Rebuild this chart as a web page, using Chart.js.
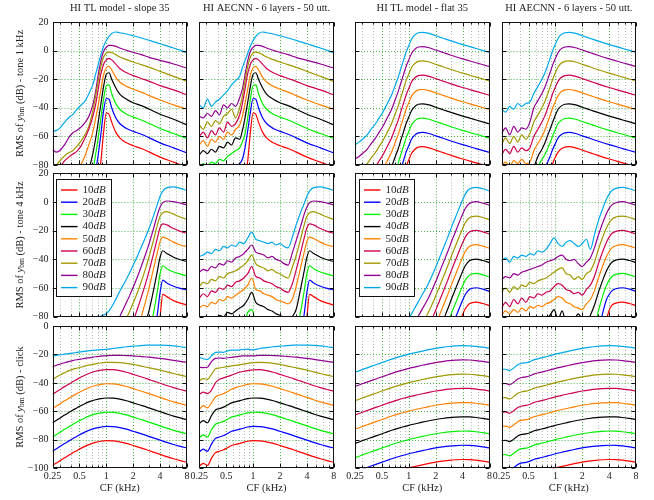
<!DOCTYPE html>
<html>
<head>
<meta charset="utf-8">
<title>RMS of basilar membrane output</title>
<script src="https://cdn.jsdelivr.net/npm/chart.js@4.4.1/dist/chart.umd.min.js"></script>
<style>
  html, body { margin: 0; padding: 0; background: #fff; }
  #board { position: relative; width: 654px; height: 500px; }
  #board canvas { position: absolute; left: 0; top: 0; }
</style>
</head>
<body>
<div id="board"></div>
<script>
// === CF grids (kHz), one per row of panels ===
const cfTone1k = [0.25,0.277,0.308,0.342,0.379,0.42,0.467,0.518,0.574,0.637,0.707,0.758,0.812,0.871,0.933,1.0,1.072,1.149,1.275,1.414,1.682,2.0,2.462,3.031,4.0,5.657,8.0];
const cfTone4k = [0.25,0.277,0.308,0.342,0.379,0.42,0.467,0.518,0.574,0.637,0.707,0.785,0.871,0.966,1.072,1.189,1.32,1.464,1.625,1.803,2.0,2.219,2.462,2.732,3.031,3.364,3.732,4.0,4.287,4.757,5.657,6.727,8.0];
const cfClick = [0.25,0.277,0.308,0.342,0.379,0.42,0.467,0.518,0.574,0.66,0.758,0.871,1.0,1.189,1.414,1.682,2.0,2.378,2.828,3.364,4.0,4.757,5.657,6.727,8.0];

const levels = ['10','20','30','40','50','60','70','80','90'];
const lineColors = ['#ff0000','#0000ff','#00ee00','#000000','#ff8000','#cc0050','#a09800','#920092','#00a8ea'];
const xTicks = [0.25,0.5,1,2,4,8];
const xMinor = [0.3,0.4,0.6,0.7,0.8,0.9,3,5,6,7];

// Series per panel, 10 dB ... 90 dB. A series shorter than its CF grid
// covers the last CF points only (earlier points lie below the plot).

// --- tone 1 kHz ---
const slope1k = [
  [-125,-124,-123,-122,-121,-120,-118,-116,-114,-111,-106,-101,-91,-77,-57,-43.5,-44.5,-50,-57,-61,-64.5,-66.5,-68.5,-71,-74.5,-78,-81.5],
  [-120,-118,-116,-114,-112,-110,-108,-106,-104,-101,-96,-85,-73,-58,-42,-33.5,-34,-40,-47,-51,-54.5,-56.5,-58.5,-61,-64.5,-68,-71.6],
  [-112,-110,-108,-106,-104,-102,-100,-98,-96,-93,-84,-73,-61,-47,-34,-24.5,-24,-30,-37,-41,-44.5,-46.5,-48.5,-51,-54.5,-58,-61.5],
  [-105,-103,-101,-99,-97,-95,-93,-91,-89,-83,-72,-62,-50,-37,-25,-16.5,-15.5,-20,-26,-30.5,-34,-36.5,-38.5,-41,-44.5,-48,-52],
  [-100,-98,-96,-94,-92,-90,-86,-80,-74,-66,-57,-48,-38,-27,-17,-12,-11,-13.5,-18.5,-22,-25,-27,-29,-31.5,-34.5,-38,-41],
  [-90,-86,-81,-77,-74.5,-72.5,-70.5,-67,-61.5,-55,-46,-38,-27,-16,-9.5,-6.5,-5.6,-6.5,-9.5,-12.5,-15.5,-17.5,-19.5,-21.5,-24.5,-27.5,-31],
  [-84,-80,-76.5,-73.5,-71.5,-70,-67,-63.5,-59,-53,-42,-32,-21,-11,-4.5,-1.7,-1,-1.4,-2.8,-4.5,-6.3,-8,-9.8,-11.7,-14.5,-18,-21.5],
  [-69.3,-71,-69.3,-65.8,-61,-57.6,-55.8,-53.7,-50.6,-46,-38,-29,-17,-7,-0.5,2.3,3.7,3.7,3,1.8,0.2,-1.2,-2.8,-4.7,-6.8,-9.4,-12.2],
  [-56.5,-55.8,-53.7,-50,-47,-44.8,-41.3,-38.3,-35.5,-30.3,-23.8,-16.8,-9.8,-2.8,3,7,10,12,13,12.5,11.6,10.4,8.8,7.2,4.8,1.8,-1.4]
];
const aecnn1k = [
  [-125,-124,-123,-122,-121,-120,-118,-116,-114,-111,-106,-101,-91,-77,-57,-43.5,-44.5,-50,-57,-61,-64.5,-66.5,-68.5,-71,-74.5,-78,-81.5],
  [-92,-90,-91,-88,-89,-86,-85,-84,-82,-80,-79,-76,-68,-56,-43,-33.5,-34,-40,-47,-51,-54.5,-56.5,-58.5,-61,-64.5,-68,-71.6],
  [-82,-79,-81,-78,-79,-76,-77,-74,-72,-70,-68,-64,-58,-47,-34,-24.5,-24,-30,-37,-41,-44.5,-46.5,-48.5,-51,-54.5,-58,-61.5],
  [-73,-70,-72,-69,-71,-67,-68,-64,-66,-61,-62,-56,-47,-36,-25,-16.5,-15.5,-20,-26,-30.5,-34,-36.5,-38.5,-41,-44.5,-48,-52],
  [-66,-63,-67,-62,-64,-60,-62,-57,-59,-55,-52,-46,-37,-27,-17,-12,-11,-13.5,-18.5,-22,-25,-27,-29,-31.5,-34.5,-38,-41],
  [-60,-57,-61,-56,-59,-54,-57,-50,-53,-51,-45,-37,-27,-16,-9.5,-6.5,-5.6,-6.5,-9.5,-12.5,-15.5,-17.5,-19.5,-21.5,-24.5,-27.5,-31],
  [-52,-55,-50,-53,-49,-51,-46,-44,-41,-47,-40,-32,-21,-11,-4.5,-1.7,-1,-1.4,-2.8,-4.5,-6.3,-8,-9.8,-11.7,-14.5,-18,-21.5],
  [-46,-47,-44,-46,-42,-45,-38,-40,-37,-39,-33,-27,-17,-7,-0.5,2.3,3.7,3.7,3,1.8,0.2,-1.2,-2.8,-4.7,-6.8,-9.4,-12.2],
  [-38,-40,-34,-39,-36,-34,-31,-28,-24,-21,-18,-12,-7,-2,3,7,10,12,13,12.5,11.6,10.4,8.8,7.2,4.8,1.8,-1.4]
];
const flat1k = [
  [-146,-144,-141.6,-139,-135,-131.5,-127,-122.5,-117,-111.5,-104,-99,-93,-87,-81,-76.5,-72,-69.5,-67.5,-67.2,-68,-69.6,-71.5,-73.4,-75.8,-78.5,-81.2],
  [-136,-134,-131.6,-129,-125,-121.5,-117,-112.5,-107,-101.5,-94,-89,-83,-77,-71,-66.5,-62,-59.5,-57.5,-57.2,-58,-59.6,-61.5,-63.4,-65.8,-68.5,-71.2],
  [-126,-124,-121.6,-119,-115,-111.5,-107,-102.5,-97,-91.5,-84,-79,-73,-67,-61,-56.5,-52,-49.5,-47.5,-47.2,-48,-49.6,-51.5,-53.4,-55.8,-58.5,-61.2],
  [-116,-114,-111.6,-109,-105,-101.5,-97,-92.5,-87,-81.5,-74,-69,-63,-57,-51,-46.5,-42,-39.5,-37.5,-37.2,-38,-39.6,-41.5,-43.4,-45.8,-48.5,-51.2],
  [-106,-104,-101.6,-99,-95,-91.5,-87,-82.5,-77,-71.5,-64,-59,-53,-47,-41,-36.5,-32,-29.5,-27.5,-27.2,-28,-29.6,-31.5,-33.4,-35.8,-38.5,-41.2],
  [-96,-94,-91.6,-89,-85,-81.5,-77,-72.5,-67,-61.5,-54,-49,-43,-37,-31,-26.5,-22,-19.5,-17.5,-17.2,-18,-19.6,-21.5,-23.4,-25.8,-28.5,-31.2],
  [-86,-84,-81.6,-79,-75,-71.5,-67,-62.5,-57,-51.5,-44,-39,-33,-27,-21,-16.5,-12,-9.5,-7.5,-7.2,-8,-9.6,-11.5,-13.4,-15.8,-18.5,-21.2],
  [-76,-74,-71.6,-69,-65,-61.5,-57,-52.5,-47,-41.5,-34,-29,-23,-17,-11,-6.5,-2,0.5,2.5,2.8,2,0.4,-1.5,-3.4,-5.8,-8.5,-11.2],
  [-66,-64,-61.6,-59,-55,-51.5,-47,-42.5,-37,-31.5,-24,-19,-13,-7,-1,3.5,8,10.5,12.5,12.8,12,10.4,8.5,6.6,4.2,1.5,-1.2]
];
const aecnnFlat1k = [
  [-120,-120,-120,-120,-120,-120,-120,-120,-120,-120,-118,-110,-100,-88,-79,-74.5,-71,-69,-67.5,-67.2,-68,-69.6,-71.5,-73.4,-75.8,-78.5,-81.2],
  [-110,-110,-110,-110,-110,-110,-110,-110,-110,-105,-92,-83,-78.5,-74,-69,-65,-61,-59,-57.5,-57.2,-58,-59.6,-61.5,-63.4,-65.8,-68.5,-71.2],
  [-100,-100,-100,-100,-100,-100,-100,-100,-97,-82,-76,-73,-69,-64.5,-59.5,-55,-51,-49,-47.5,-47.2,-48,-49.6,-51.5,-53.4,-55.8,-58.5,-61.2],
  [-95,-95,-95,-95,-95,-95,-95,-92,-82,-74,-69,-65,-60,-55,-50,-45,-41,-39,-37.5,-37.2,-38,-39.6,-41.5,-43.4,-45.8,-48.5,-51.2],
  [-80,-78,-81,-77,-79,-76,-79,-78,-70,-65,-60,-56,-51,-45.5,-40,-35.5,-31.5,-29,-27.5,-27.2,-28,-29.6,-31.5,-33.4,-35.8,-38.5,-41.2],
  [-73,-69,-72,-67,-71,-68,-70,-68,-60,-55,-50,-46,-41,-35.5,-30,-25.5,-21.5,-19,-17.5,-17.2,-18,-19.6,-21.5,-23.4,-25.8,-28.5,-31.2],
  [-66,-61,-65,-60,-64,-59,-62,-58,-50,-45,-40,-36,-31,-25.5,-20,-15.5,-11.5,-9,-7.5,-7.2,-8,-9.6,-11.5,-13.4,-15.8,-18.5,-21.2],
  [-58,-54,-59,-53,-57,-54,-55,-50,-40,-35,-30,-26,-21,-15.5,-10,-5.5,-1.5,1,2.5,2.8,2,0.4,-1.5,-3.4,-5.8,-8.5,-11.2],
  [-41,-43,-39,-41,-37,-39,-37,-36,-30,-25,-20,-16,-11,-5.5,0,4.5,8.5,11,12.5,12.8,12,10.4,8.5,6.6,4.2,1.5,-1.2]
];

// --- tone 4 kHz ---
const slope4k = [
  [-110,-95,-80,-64.5,-66,-68.8,-70.5,-71.9],
  [-108,-95,-78,-63,-54.5,-56.5,-58.8,-60.3,-61.4],
  [-105,-90,-78,-62,-50,-44.5,-46.5,-48.8,-50.3,-51.6],
  [-97,-85,-75,-62,-48,-38.5,-34,-36,-38.5,-40.3,-41.6],
  [-98,-88,-80,-70,-59,-47,-35,-27.5,-24.5,-25.5,-28,-30,-31.2],
  [-91,-83,-75,-66.5,-57.5,-47.5,-36.5,-25,-18,-15.2,-16,-18.5,-20.5,-21.9],
  [-90,-83,-77,-70.5,-63.5,-55.5,-47,-37.5,-27,-16,-10,-7.5,-6.7,-8.5,-10.5,-12.1],
  [-95,-89,-84,-78,-72,-66,-59.5,-52.5,-45,-37,-28.5,-19,-9,-3.5,-0.5,0.7,0.3,-0.8,-2.1],
  [-88,-83,-79.5,-78.5,-76,-71.5,-66,-60.5,-55.5,-50,-44,-38,-31.5,-25,-18,-10,-1.5,4,7.5,10,10.6,9.5,8]
];
const aecnn4k = [
  [-110,-95,-80,-64.5,-66,-68.8,-70.5,-71.9],
  [-108,-95,-78,-63,-54.5,-56.5,-58.8,-60.3,-61.4],
  [-95,-94,-93,-92,-91,-90,-89,-88,-87,-86,-85,-86,-77,-75,-84,-86,-88,-89,-90,-90,-91,-91,-92,-92,-90,-78,-62,-50,-44.5,-46.5,-48.8,-50.3,-51.6],
  [-84,-81,-83,-80,-82,-79,-80,-77,-78,-76,-74,-72,-68,-63,-70,-72,-73,-75,-76,-78,-79,-81,-82,-80,-75,-62,-48,-38.5,-34,-36,-38.5,-40.3,-41.6],
  [-74,-72,-73,-70,-71,-68,-69,-66,-67,-65,-63,-61,-58,-53,-61,-62,-64,-65,-66,-68,-69,-70,-71,-68,-59,-47,-35,-27.5,-24.5,-25.5,-28,-30,-31.2],
  [-67,-64,-66,-62,-63,-60,-61,-58,-59,-56,-55,-53,-50,-45,-52,-53,-55,-56,-57,-59,-60,-62,-63,-57.5,-47.5,-36.5,-25,-18,-15.2,-16,-18.5,-20.5,-21.9],
  [-59,-56,-57,-54,-55,-52,-53,-50,-49,-48,-46,-44,-41,-37,-43,-45,-46,-48,-47,-49,-50,-52,-53,-46,-37.5,-27,-16,-10,-7.5,-6.7,-8.5,-10.5,-12.1],
  [-49,-47,-48,-45,-46,-43,-44,-41,-42,-39,-38,-36,-33,-30,-35,-36,-37,-39,-38,-40,-41,-43,-44,-36,-27,-18,-8.5,-3.5,-0.5,0.7,0.3,-0.8,-2.1],
  [-38,-37,-35,-36,-33,-34,-31,-32,-30,-31,-28,-29,-25,-21,-26,-27,-28,-29,-28,-30,-29,-31,-32,-25,-16,-8,-1,4,7.5,10,10.6,9.5,8]
];
const flat4k = [
  [-104.5,-97,-90,-83,-78.5,-74.5,-71,-69.8,-70.8,-72.3],
  [-101.5,-94.5,-87,-80,-73,-68.5,-64.5,-61,-59.8,-60.8,-62.3],
  [-98.5,-91.5,-84.5,-77,-70,-63,-58.5,-54.5,-51,-49.8,-50.8,-52.3],
  [-95.5,-88.5,-81.5,-74.5,-67,-60,-53,-48.5,-44.5,-41,-39.8,-40.8,-42.3],
  [-92,-85.5,-78.5,-71.5,-64.5,-57,-50,-43,-38.5,-34.5,-31,-29.8,-30.8,-32.3],
  [-88,-82,-75.5,-68.5,-61.5,-54.5,-47,-40,-33,-28.5,-24.5,-21,-19.8,-20.8,-22.3],
  [-88,-83,-78,-72,-65.5,-58.5,-51.5,-44.5,-37,-30,-23,-18.5,-14.5,-11,-9.8,-10.8,-12.3],
  [-88,-83,-78,-73,-68,-62,-55.5,-48.5,-41.5,-34.5,-27,-20,-13,-8.5,-4.5,-1,0.2,-0.8,-2.3],
  [-88,-83,-78,-73,-68,-63,-58,-52,-45.5,-38.5,-31.5,-24.5,-17,-10,-3,1.5,5.5,9,10.2,9.2,7.7]
];
const aecnnFlat4k = [
  [-105,-95,-82,-75.5,-72,-70.5,-69.8,-70.8,-72.3],
  [-102,-90,-78,-68,-64.5,-62,-60.5,-59.8,-60.8,-62.3],
  [-100,-88,-76,-66,-58,-54.5,-52,-50.5,-49.8,-50.8,-52.3],
  [-88,-86,-87,-85,-86,-84,-85,-83,-84,-82,-83,-81,-79,-75,-82,-76,-84,-83,-82,-78,-82,-85,-79,-72,-63,-55,-48,-44.5,-42,-40.5,-39.8,-40.8,-42.3],
  [-79,-76,-78,-75,-77,-74,-76,-73,-74,-72,-73,-71,-70,-68,-66,-67,-70,-71,-73,-74,-75,-71,-68,-62,-53,-45,-38,-34.5,-32,-30.5,-29.8,-30.8,-32.3],
  [-74,-70,-73,-68,-71,-67,-70,-66,-67,-64,-65,-63,-62,-59,-57,-58,-61,-62,-64,-63,-65,-61,-58,-52,-43,-35,-28,-24.5,-22,-20.5,-19.8,-20.8,-22.3],
  [-63,-60,-63,-59,-61,-58,-59,-56,-57,-55,-54,-53,-51,-49,-47,-46,-50,-51,-54,-52,-54,-50,-48,-42,-33,-25,-18,-14.5,-12,-10.5,-9.8,-10.8,-12.3],
  [-54,-52,-53,-50,-51,-49,-48,-47,-46,-45,-44,-42,-41,-40,-38,-37,-40,-41,-40,-43,-45,-42,-39,-32,-23,-15,-8,-4.5,-2,-0.5,0.2,-0.8,-2.3],
  [-41,-39,-42,-38,-39,-37,-38,-36,-37,-34,-35,-33,-29,-25,-29,-31,-28,-27,-29,-31,-29,-26,-33,-23,-13,-5,2,5.5,8,9.5,10.2,9.2,7.7]
];

// --- click ---
const slopeClick = [
  [-98,-96.2,-94.4,-92.6,-90.9,-89.2,-87.6,-86,-84.6,-83,-81.8,-81,-80.6,-80.7,-81.4,-82.5,-84,-85.5,-87,-88.6,-90.2,-91.8,-93.3,-94.6,-95.8],
  [-88,-86.2,-84.4,-82.6,-80.9,-79.2,-77.6,-76,-74.6,-73,-71.8,-71,-70.6,-70.7,-71.4,-72.5,-74,-75.5,-77,-78.6,-80.2,-81.8,-83.3,-84.6,-85.8],
  [-78,-76.2,-74.4,-72.6,-70.9,-69.2,-67.6,-66,-64.6,-63,-61.8,-61,-60.6,-60.7,-61.4,-62.5,-64,-65.5,-67,-68.6,-70.2,-71.8,-73.3,-74.6,-75.8],
  [-68,-66.2,-64.4,-62.6,-60.9,-59.2,-57.6,-56,-54.6,-53,-51.8,-51,-50.6,-50.7,-51.4,-52.5,-54,-55.5,-57,-58.6,-60.2,-61.8,-63.3,-64.6,-65.8],
  [-58,-56.2,-54.4,-52.6,-50.9,-49.2,-47.6,-46,-44.6,-43,-41.8,-41,-40.6,-40.7,-41.4,-42.5,-44,-45.5,-47,-48.6,-50.2,-51.8,-53.3,-54.6,-55.8],
  [-48,-46.2,-44.4,-42.6,-40.9,-39.2,-37.6,-36,-34.6,-33,-31.8,-31,-30.6,-30.7,-31.4,-32.5,-34,-35.5,-37,-38.6,-40.2,-41.8,-43.3,-44.6,-45.8],
  [-37.5,-35.8,-34.2,-32.8,-31.5,-30.5,-29.7,-29,-28.2,-27.3,-26.6,-26,-25.6,-25.5,-25.7,-26.2,-27,-28,-29,-30,-31,-32.2,-33.4,-34.5,-35.6],
  [-28.6,-27.6,-26.7,-25.8,-25,-24.3,-23.7,-23.3,-22.8,-22.2,-21.6,-21.2,-20.8,-20.6,-20.6,-20.8,-21,-21.4,-21.8,-22.2,-22.7,-23.4,-24.1,-24.8,-25.5],
  [-21.1,-20.6,-20.2,-19.8,-19.4,-19,-18.6,-18.2,-17.8,-17.3,-16.9,-16.6,-16.4,-15.8,-15.2,-14.6,-14.2,-13.8,-13.5,-13.4,-13.4,-13.6,-14,-14.6,-15.3]
];
const aecnnClick = [
  [-98.5,-96.5,-98,-93,-89,-88,-87,-85.5,-84,-83,-82,-81,-80.6,-80.7,-81.4,-82.5,-84,-85.5,-87,-88.6,-90.2,-91.8,-93.3,-94.6,-95.8],
  [-88.5,-86.5,-88,-83,-79,-78,-77,-75.5,-74,-73,-72,-71,-70.6,-70.7,-71.4,-72.5,-74,-75.5,-77,-78.6,-80.2,-81.8,-83.3,-84.6,-85.8],
  [-78.5,-76.5,-78,-73,-69,-68,-67,-65.5,-64,-63,-62,-61,-60.6,-60.7,-61.4,-62.5,-64,-65.5,-67,-68.6,-70.2,-71.8,-73.3,-74.6,-75.8],
  [-68.5,-66.5,-68,-63,-59,-58,-57,-55.5,-54,-53,-52,-51,-50.6,-50.7,-51.4,-52.5,-54,-55.5,-57,-58.6,-60.2,-61.8,-63.3,-64.6,-65.8],
  [-58.5,-56,-57.5,-54,-50,-48.5,-47.5,-46,-44.5,-43,-42,-41,-40.6,-40.7,-41.4,-42.5,-44,-45.5,-47,-48.6,-50.2,-51.8,-53.3,-54.6,-55.8],
  [-48,-46.5,-47.5,-45,-40,-37.5,-36.5,-35.5,-34.5,-33,-32,-31.3,-30.8,-30.7,-31.4,-32.5,-34,-35.5,-37,-38.6,-40.2,-41.8,-43.3,-44.6,-45.8],
  [-38.5,-37,-37.5,-34,-30,-29.5,-29,-28.5,-28,-27.5,-27,-26.3,-25.8,-25.5,-25.7,-26.2,-27,-28,-29,-30,-31,-32.2,-33.4,-34.5,-35.6],
  [-29,-29.3,-29,-25,-22.8,-22.5,-22.7,-22.3,-22,-21.5,-21,-21,-21,-20.6,-20.6,-20.8,-21,-21.4,-21.8,-22.2,-22.7,-23.4,-24.1,-24.8,-25.5],
  [-22,-23,-23.5,-21,-18.5,-18.3,-18.5,-17.5,-17,-17,-16.5,-16.3,-16.8,-15.8,-15.2,-14.6,-14.2,-13.8,-13.5,-13.4,-13.4,-13.6,-14,-14.6,-15.3]
];
const flatClick = [
  [-101.9,-100.8,-99.8,-98.7,-97.6,-96.6,-95.7,-95,-94.4,-94,-93.8,-93.9,-94.3,-94.9,-95.7],
  [-102.5,-101.5,-100.4,-99.4,-98.4,-97.4,-96.4,-95.4,-94.4,-93.1,-91.9,-90.8,-89.8,-88.7,-87.6,-86.6,-85.7,-85,-84.4,-84,-83.8,-83.9,-84.3,-84.9,-85.7],
  [-92.5,-91.5,-90.4,-89.4,-88.4,-87.4,-86.4,-85.4,-84.4,-83.1,-81.9,-80.8,-79.8,-78.7,-77.6,-76.6,-75.7,-75,-74.4,-74,-73.8,-73.9,-74.3,-74.9,-75.7],
  [-82.5,-81.5,-80.4,-79.4,-78.4,-77.4,-76.4,-75.4,-74.4,-73.1,-71.9,-70.8,-69.8,-68.7,-67.6,-66.6,-65.7,-65,-64.4,-64,-63.8,-63.9,-64.3,-64.9,-65.7],
  [-72.5,-71.5,-70.4,-69.4,-68.4,-67.4,-66.4,-65.4,-64.4,-63.1,-61.9,-60.8,-59.8,-58.7,-57.6,-56.6,-55.7,-55,-54.4,-54,-53.8,-53.9,-54.3,-54.9,-55.7],
  [-62.5,-61.5,-60.4,-59.4,-58.4,-57.4,-56.4,-55.4,-54.4,-53.1,-51.9,-50.8,-49.8,-48.7,-47.6,-46.6,-45.7,-45,-44.4,-44,-43.8,-43.9,-44.3,-44.9,-45.7],
  [-52.5,-51.5,-50.4,-49.4,-48.4,-47.4,-46.4,-45.4,-44.4,-43.1,-41.9,-40.8,-39.8,-38.7,-37.6,-36.6,-35.7,-35,-34.4,-34,-33.8,-33.9,-34.3,-34.9,-35.7],
  [-42.5,-41.5,-40.4,-39.4,-38.4,-37.4,-36.4,-35.4,-34.4,-33.1,-31.9,-30.8,-29.8,-28.7,-27.6,-26.6,-25.7,-25,-24.4,-24,-23.8,-23.9,-24.3,-24.9,-25.7],
  [-32.5,-31.5,-30.4,-29.4,-28.4,-27.4,-26.4,-25.4,-24.4,-23.1,-21.9,-20.8,-19.8,-18.7,-17.6,-16.6,-15.7,-15,-14.4,-14,-13.8,-13.9,-14.3,-14.9,-15.7]
];
const aecnnFlatClick = [
  [-102.8,-101.9,-100.8,-99.8,-98.7,-97.6,-96.6,-95.7,-95,-94.4,-94,-93.8,-93.9,-94.3,-94.9,-95.7],
  [-100.5,-100.4,-101.3,-99.5,-97.3,-96.2,-95.8,-95,-93.8,-92.8,-91.9,-90.8,-89.8,-88.7,-87.6,-86.6,-85.7,-85,-84.4,-84,-83.8,-83.9,-84.3,-84.9,-85.7],
  [-90.5,-90.4,-91.3,-89.5,-87.3,-86.2,-85.8,-85,-83.8,-82.8,-81.9,-80.8,-79.8,-78.7,-77.6,-76.6,-75.7,-75,-74.4,-74,-73.8,-73.9,-74.3,-74.9,-75.7],
  [-80.5,-80.4,-81.3,-79.5,-77.3,-76.2,-75.8,-75,-73.8,-72.8,-71.9,-70.8,-69.8,-68.7,-67.6,-66.6,-65.7,-65,-64.4,-64,-63.8,-63.9,-64.3,-64.9,-65.7],
  [-70.5,-70.4,-71.3,-69.5,-67.3,-66.2,-65.8,-65,-63.8,-62.8,-61.9,-60.8,-59.8,-58.7,-57.6,-56.6,-55.7,-55,-54.4,-54,-53.8,-53.9,-54.3,-54.9,-55.7],
  [-60.5,-60.4,-61.3,-59.5,-57.3,-56.2,-55.8,-55,-53.8,-52.8,-51.9,-50.8,-49.8,-48.7,-47.6,-46.6,-45.7,-45,-44.4,-44,-43.8,-43.9,-44.3,-44.9,-45.7],
  [-50.5,-50.4,-51.3,-49.5,-47.3,-46.2,-45.8,-45,-43.8,-42.8,-41.9,-40.8,-39.8,-38.7,-37.6,-36.6,-35.7,-35,-34.4,-34,-33.8,-33.9,-34.3,-34.9,-35.7],
  [-40.5,-40.4,-41.3,-39.5,-37.3,-36.2,-35.8,-35,-33.8,-32.8,-31.9,-30.8,-29.8,-28.7,-27.6,-26.6,-25.7,-25,-24.4,-24,-23.8,-23.9,-24.3,-24.9,-25.7],
  [-30.5,-30.4,-31.3,-29.5,-27.3,-26.2,-25.8,-25,-23.8,-22.8,-21.9,-20.8,-19.8,-18.7,-17.6,-16.6,-15.7,-15,-14.4,-14,-13.8,-13.9,-14.3,-14.9,-15.7]
];

// === Layout of the 3 x 4 grid ===
const W = 654, H = 500;
const colLeft = [52.5, 199.3, 355, 501.6];
const plotW = 134.5;
const rowTop = [22, 173.3, 326];
const rowH = [143, 143.4, 142.3];
const yAxisW = 40, xAxisH = 18;

const titles = ['HI TL model - slope 35', 'HI AECNN - 6 layers - 50 utt.', 'HI TL model - flat 35', 'HI AECNN - 6 layers - 50 utt.'];
const rows = [
  { cf: cfTone1k, min: -80, max: 20, what: 'tone 1 kHz', panels: [slope1k, aecnn1k, flat1k, aecnnFlat1k] },
  { cf: cfTone4k, min: -80, max: 20, what: 'tone 4 kHz', panels: [slope4k, aecnn4k, flat4k, aecnnFlat4k] },
  { cf: cfClick, min: -100, max: 0, what: 'click', panels: [slopeClick, aecnnClick, flatClick, aecnnFlatClick] }
];

const SERIF = '"Liberation Serif", "DejaVu Serif", serif';
const INK = '#222';

function minus(v) { return v < 0 ? '\u2212' + Math.abs(v) : String(v); }

// grid, frame, tick marks, titles, legend
const panelDecor = {
  id: 'panelDecor',
  beforeDatasetsDraw(chart, args, o) {
    const { ctx, chartArea: a, scales: { x, y } } = chart;
    ctx.save();
    ctx.lineWidth = 1;
    ctx.setLineDash([1, 2]);
    const vline = v => {
      const px = Math.round(x.getPixelForValue(v)) + 0.5;
      ctx.beginPath(); ctx.moveTo(px, a.top); ctx.lineTo(px, a.bottom); ctx.stroke();
    };
    ctx.strokeStyle = '#b8b8b8';
    xMinor.forEach(vline);
    ctx.strokeStyle = 'rgba(0,150,0,0.7)';
    xTicks.slice(1, -1).forEach(vline);
    for (let v = o.min + 20; v < o.max; v += 20) {
      const py = Math.round(y.getPixelForValue(v)) + 0.5;
      ctx.beginPath(); ctx.moveTo(a.left, py); ctx.lineTo(a.right, py); ctx.stroke();
    }
    ctx.restore();
  },
  afterDatasetsDraw(chart, args, o) {
    const { ctx, chartArea: a, scales: { x, y } } = chart;
    const L = Math.round(a.left) + 0.5, R = Math.round(a.right) - 0.5;
    const T = Math.round(a.top) + 0.5, B = Math.round(a.bottom) - 0.5;
    ctx.save();
    ctx.strokeStyle = '#111';
    ctx.lineWidth = 1;
    ctx.beginPath();
    const tick = (x0, y0, x1, y1) => { ctx.moveTo(x0, y0); ctx.lineTo(x1, y1); };
    xTicks.forEach(v => {
      const px = Math.round(x.getPixelForValue(v)) + 0.5;
      tick(px, B, px, B - 4); tick(px, T, px, T + 4);
    });
    xMinor.forEach(v => {
      const px = Math.round(x.getPixelForValue(v)) + 0.5;
      tick(px, B, px, B - 2); tick(px, T, px, T + 2);
    });
    for (let v = o.min; v <= o.max; v += 20) {
      const py = Math.round(y.getPixelForValue(v)) + 0.5;
      tick(L, py, L + 4, py); tick(R, py, R - 4, py);
    }
    ctx.stroke();
    ctx.strokeRect(L, T, R - L, B - T);

    ctx.fillStyle = INK;
    if (o.title) {
      ctx.font = '10.5px ' + SERIF;
      ctx.textAlign = 'center';
      ctx.textBaseline = 'middle';
      ctx.fillText(o.title, (a.left + a.right) / 2, 8);
    }
    if (o.xLabel) {
      ctx.font = '10.5px ' + SERIF;
      ctx.textAlign = 'center';
      ctx.textBaseline = 'middle';
      ctx.fillText('CF (kHz)', (a.left + a.right) / 2, 488);
    }
    if (o.yLabel) drawYLabel(ctx, 20, (a.top + a.bottom) / 2, o.yLabel);
    if (o.legend) drawLegend(chart, a);
    ctx.restore();
  }
};

function drawYLabel(ctx, cx, cy, what) {
  const parts = [
    ['RMS of ', '10.5px ' + SERIF, 0],
    ['y', 'italic 10.5px ' + SERIF, 0],
    ['bm', '7.5px ' + SERIF, 2.5],
    [' (dB) - ' + what, '10.5px ' + SERIF, 0]
  ];
  let total = 0;
  parts.forEach(p => { ctx.font = p[1]; p.push(ctx.measureText(p[0]).width); total += p[3]; });
  ctx.save();
  ctx.translate(cx, cy);
  ctx.rotate(-Math.PI / 2);
  ctx.textAlign = 'left';
  ctx.textBaseline = 'middle';
  let px = -total / 2;
  parts.forEach(p => { ctx.font = p[1]; ctx.fillText(p[0], px, p[2]); px += p[3]; });
  ctx.restore();
}

function drawLegend(chart, a) {
  const ctx = chart.ctx;
  const bx = Math.round(a.left + 3.5) + 0.5, by = Math.round(a.top + 6) + 0.5;
  const bw = 55, bh = 117;
  ctx.fillStyle = '#fff';
  ctx.fillRect(bx, by, bw, bh);
  ctx.strokeStyle = '#111';
  ctx.lineWidth = 1;
  ctx.strokeRect(bx, by, bw, bh);
  chart.data.datasets.forEach((ds, i) => {
    const cy = by + 10.5 + i * 12.2;
    ctx.strokeStyle = ds.borderColor;
    ctx.lineWidth = 1.4;
    ctx.beginPath(); ctx.moveTo(bx + 4.5, cy); ctx.lineTo(bx + 21, cy); ctx.stroke();
    ctx.fillStyle = INK;
    ctx.textAlign = 'left';
    ctx.textBaseline = 'middle';
    ctx.font = '11px ' + SERIF;
    ctx.fillText(levels[i], bx + 26, cy);
    const w = ctx.measureText(levels[i]).width;
    ctx.font = 'italic 11px ' + SERIF;
    ctx.fillText('dB', bx + 26 + w, cy);
  });
}

function buildSets(cf, series) {
  return series.map((vals, i) => {
    const off = cf.length - vals.length;
    return {
      label: levels[i] + 'dB',
      data: vals.map((v, k) => ({ x: cf[off + k], y: v })),
      borderColor: lineColors[i],
      borderWidth: 1.2,
      pointRadius: 0,
      fill: false,
      cubicInterpolationMode: 'monotone'
    };
  });
}

const board = document.getElementById('board');
rows.forEach((row, r) => {
  row.panels.forEach((series, c) => {
    const canvas = document.createElement('canvas');
    canvas.width = W; canvas.height = H;
    canvas.style.width = W + 'px'; canvas.style.height = H + 'px';
    board.appendChild(canvas);

    const showY = c === 0, showX = r === 2;
    const font = { family: SERIF, size: 10 };
    new Chart(canvas, {
      type: 'line',
      data: { datasets: buildSets(row.cf, series) },
      options: {
        responsive: false,
        animation: false,
        events: [],
        devicePixelRatio: 1,
        layout: {
          autoPadding: false,
          padding: {
            left: colLeft[c] - (showY ? yAxisW : 0),
            right: W - colLeft[c] - plotW,
            top: rowTop[r],
            bottom: H - rowTop[r] - rowH[r] - (showX ? xAxisH : 0)
          }
        },
        plugins: {
          legend: { display: false },
          tooltip: { enabled: false },
          panelDecor: {
            min: row.min, max: row.max,
            title: r === 0 ? titles[c] : null,
            xLabel: showX,
            yLabel: showY ? row.what : null,
            legend: r === 1 && (c === 0 || c === 2)
          }
        },
        scales: {
          x: {
            type: 'logarithmic',
            min: 0.25, max: 8,
            display: showX,
            afterBuildTicks: s => { s.ticks = xTicks.map(v => ({ value: v })); },
            afterFit: s => { s.height = showX ? xAxisH : 0; },
            grid: { display: false, drawTicks: false },
            border: { display: false },
            ticks: { autoSkip: false, maxRotation: 0, padding: 2, font, color: INK, callback: v => String(v) }
          },
          y: {
            min: row.min, max: row.max,
            display: showY,
            afterFit: s => { s.width = showY ? yAxisW : 0; },
            grid: { display: false, drawTicks: false },
            border: { display: false },
            ticks: { stepSize: 20, padding: 4, font, color: INK, callback: v => minus(v) }
          }
        }
      },
      plugins: [panelDecor]
    });
  });
});
</script>
</body>
</html>
